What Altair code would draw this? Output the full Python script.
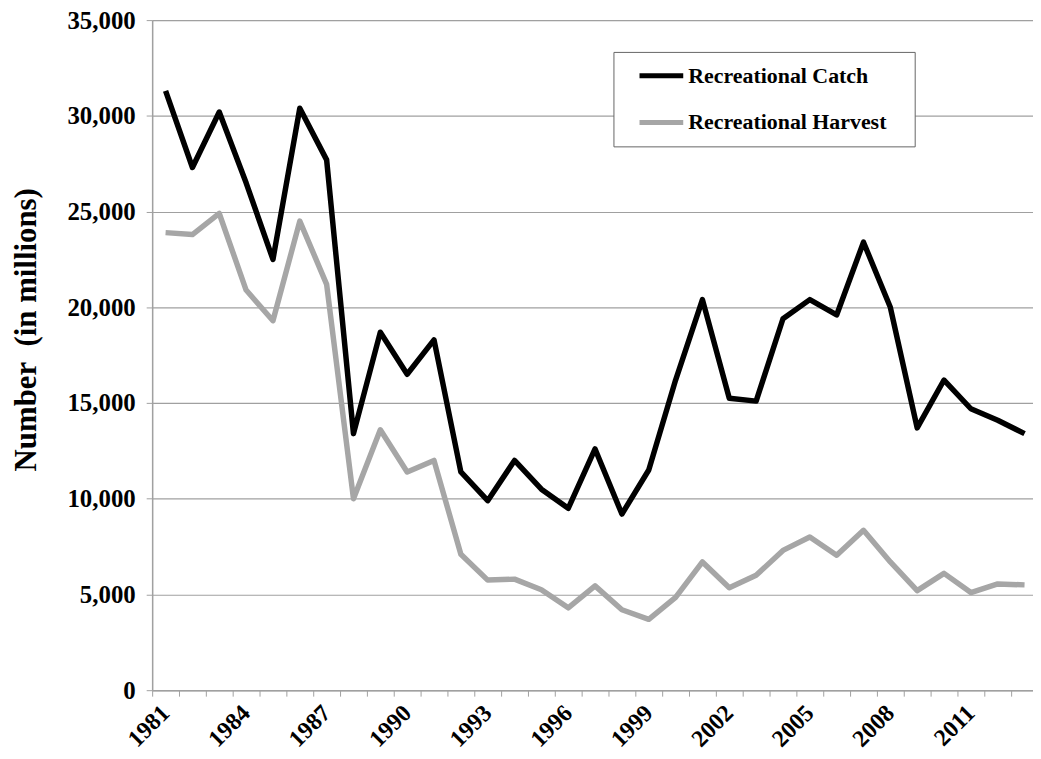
import altair as alt
import pandas as pd

years = list(range(1981, 2014))
catch = [31300, 27300, 30200, 26500, 22500, 30400, 27700, 13400, 18700, 16500,
         18300, 11400, 9900, 12000, 10500, 9500, 12600, 9200, 11500, 16200,
         20400, 15250, 15100, 19400, 20400, 19600, 23400, 20000, 13700, 16200,
         14700, 14100, 13400]
harvest = [23900, 23800, 24900, 20900, 19300, 24500, 21200, 10000, 13600, 11400,
           12000, 7100, 5750, 5800, 5250, 4300, 5450, 4200, 3700, 4850,
           6700, 5350, 6000, 7300, 8000, 7050, 8350, 6700, 5200, 6100,
           5100, 5550, 5500]
series_names = ["Recreational Catch", "Recreational Harvest"]
series_colors = ["#000000", "#a6a6a6"]
y_ticks = [0, 5000, 10000, 15000, 20000, 25000, 30000, 35000]

rows = []
for name, vals in zip(series_names, [catch, harvest]):
    for yr, v in zip(years, vals):
        rows.append({"year": yr, "value": v, "series": name})
df = pd.DataFrame(rows)

W = 886
H = 674
band = 27.0
FONT = "Liberation Serif"
GRAY = "#a0a0a0"

x_domain = [1980.5, 1980.5 + W / band]

chart = alt.Chart(df).mark_line(strokeWidth=5.5, strokeJoin="round", clip=True).encode(
    x=alt.X("year:Q",
            scale=alt.Scale(domain=x_domain, nice=False, zero=False),
            axis=alt.Axis(values=years, format="d", grid=False, labelOverlap=False,
                          labelExpr="(datum.value - 1981) % 3 == 0 ? datum.label : ''",
                          tickOffset=-band / 2, labelOffset=band / 2,
                          labelAngle=-45, labelAlign="right", labelBaseline="middle",
                          labelPadding=13, tickSize=6, tickColor=GRAY,
                          domainColor=GRAY, domainWidth=1.5,
                          labelFont=FONT, labelFontSize=24, labelFontWeight="bold",
                          labelColor="#000000", title=None)),
    y=alt.Y("value:Q",
            scale=alt.Scale(domain=[0, 35000], nice=False),
            axis=alt.Axis(values=y_ticks, format=",.0f", grid=True, gridColor=GRAY,
                          gridWidth=1.2, tickSize=6, tickColor=GRAY, labelOverlap=False,
                          domainColor=GRAY, domainWidth=1.5, labelPadding=11,
                          labelFont=FONT, labelFontSize=25, labelFontWeight="bold",
                          labelColor="#000000",
                          title="Number\u00a0 (in millions)",
                          titleFont=FONT, titleFontSize=31, titleFontWeight="bold",
                          titleColor="#000000", titleX=-126, titleY=311,
                          titleAngle=-90, titleAlign="center", titleBaseline="middle")),
    color=alt.Color("series:N",
                    scale=alt.Scale(domain=series_names, range=series_colors),
                    legend=alt.Legend(orient="none", legendX=464, legendY=32,
                                      title=None, direction="vertical",
                                      symbolType="M-3,0H3M31.5,0L31.5,0", symbolSize=215,
                                      symbolStrokeWidth=5, symbolOffset=24.2,
                                      labelOffset=16.1, padding=13, rowPadding=25,
                                      strokeColor="#666666",
                                      fillColor="#ffffff",
                                      labelFont=FONT, labelFontSize=22,
                                      labelFontWeight="bold", labelColor="#000000",
                                      labelLimit=400)),
).properties(
    width=W, height=H,
    autosize=alt.AutoSizeParams(type="none"),
    padding={"left": 145, "top": 10, "right": 0, "bottom": 60},
).configure_view(stroke=None).configure(background="#ffffff")

chart.save("out.html", embed_options={"renderer": "svg", "actions": False})
